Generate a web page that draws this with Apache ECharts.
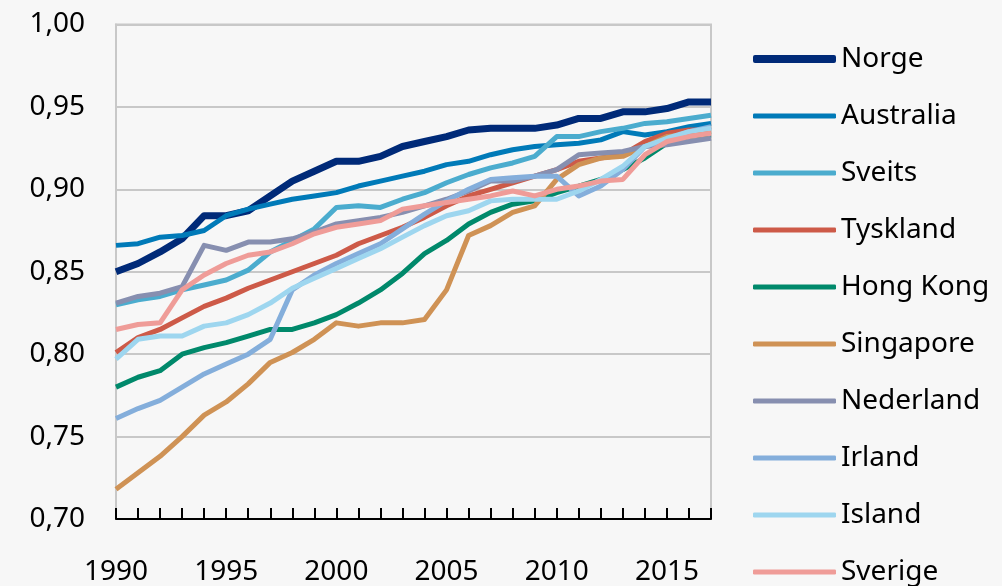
<!DOCTYPE html>
<html>
<head>
<meta charset="utf-8">
<script src="https://cdn.jsdelivr.net/npm/echarts@6/dist/echarts.min.js"></script>
<style>
  html, body { margin: 0; padding: 0; background: #f7f7f7; }
  #main { width: 1002px; height: 586px; }
</style>
</head>
<body>
<div id="main"></div>
<script>
// år 1990-2017
var years = [];
for (var y = 1990; y <= 2017; y++) years.push(String(y));

// verdier lest av figuren
var norge     = [0.850,0.855,0.862,0.870,0.884,0.884,0.887,0.896,0.905,0.911,0.917,0.917,0.920,0.926,0.929,0.932,0.936,0.937,0.937,0.937,0.939,0.943,0.943,0.947,0.947,0.949,0.953,0.953];
var australia = [0.866,0.867,0.871,0.872,0.875,0.884,0.888,0.891,0.894,0.896,0.898,0.902,0.905,0.908,0.911,0.915,0.917,0.921,0.924,0.926,0.927,0.928,0.930,0.935,0.933,0.935,0.938,0.940];
var sveits    = [0.830,0.833,0.835,0.839,0.842,0.845,0.851,0.862,0.869,0.876,0.889,0.890,0.889,0.894,0.898,0.904,0.909,0.913,0.916,0.920,0.932,0.932,0.935,0.937,0.940,0.941,0.943,0.945];
var tyskland  = [0.801,0.810,0.815,0.822,0.829,0.834,0.840,0.845,0.850,0.855,0.860,0.867,0.872,0.877,0.883,0.890,0.896,0.900,0.904,0.908,0.912,0.917,0.919,0.921,0.929,0.934,0.936,0.936];
var hongkong  = [0.780,0.786,0.790,0.800,0.804,0.807,0.811,0.815,0.815,0.819,0.824,0.831,0.839,0.849,0.861,0.869,0.879,0.886,0.891,0.893,0.898,0.902,0.906,0.912,0.919,0.928,0.932,0.933];
var singapore = [0.718,0.728,0.738,0.750,0.763,0.771,0.782,0.795,0.801,0.809,0.819,0.817,0.819,0.819,0.821,0.839,0.872,0.878,0.886,0.890,0.906,0.915,0.919,0.920,0.926,0.932,0.933,0.935];
var nederland = [0.831,0.835,0.837,0.841,0.866,0.863,0.868,0.868,0.870,0.874,0.879,0.881,0.883,0.886,0.890,0.894,0.899,0.905,0.905,0.908,0.912,0.921,0.922,0.923,0.926,0.927,0.929,0.931];
var irland    = [0.761,0.767,0.772,0.780,0.788,0.794,0.800,0.809,0.839,0.848,0.855,0.861,0.867,0.876,0.885,0.893,0.900,0.906,0.907,0.908,0.908,0.896,0.902,0.912,0.926,0.930,0.935,0.938];
var island    = [0.797,0.809,0.811,0.811,0.817,0.819,0.824,0.831,0.840,0.846,0.852,0.858,0.864,0.871,0.878,0.884,0.887,0.893,0.894,0.894,0.894,0.899,0.906,0.914,0.926,0.931,0.935,0.937];
var sverige   = [0.815,0.818,0.819,0.839,0.848,0.855,0.860,0.862,0.867,0.873,0.877,0.879,0.881,0.888,0.890,0.892,0.894,0.896,0.899,0.896,0.900,0.902,0.905,0.906,0.921,0.929,0.932,0.934];

var names  = ['Norge','Australia','Sveits','Tyskland','Hong Kong','Singapore','Nederland','Irland','Island','Sverige'];
var values = [norge, australia, sveits, tyskland, hongkong, singapore, nederland, irland, island, sverige];
var colors = ['#002a78','#007ab8','#4bacce','#cd5a48','#00896b','#cf9255','#878fb0','#84aedb','#9ed6ef','#ef9c98'];

var font = 'Noto Sans';

var series = names.map(function (n, i) {
  return {
    name: n,
    type: 'line',
    data: values[i],
    symbol: 'none',
    color: colors[i],
    lineStyle: { width: i === 0 ? 7 : 5, color: colors[i], join: 'round' }
  };
});

// felles tegnforklaring-stil
var legendText = { fontFamily: font, fontSize: 28, color: '#000', lineHeight: 30 };
function legendBox(data, top, h) {
  return {
    orient: 'vertical',
    left: 748,
    top: top,
    height: 600,
    icon: 'roundRect',
    itemWidth: 83,
    itemHeight: h,
    itemGap: 27,
    data: data,
    textStyle: legendText
  };
}

var chart = echarts.init(document.getElementById('main'));
chart.setOption({
  backgroundColor: '#f7f7f7',
  animation: false,
  grid: {
    left: 116, right: 291, top: 24.5, bottom: 63,
    show: true, borderColor: '#c8c8c8', borderWidth: 2
  },
  legend: [
    legendBox(names.slice(0, 1), 39, 8),
    legendBox(names.slice(1), 96, 5)
  ],
  xAxis: {
    type: 'category',
    data: years,
    boundaryGap: false,
    axisLine: { show: true, lineStyle: { color: '#000', width: 2 } },
    axisTick: { show: true, inside: true, length: 11, interval: 0, lineStyle: { color: '#000', width: 2 } },
    axisLabel: { interval: 4, margin: 39, fontFamily: font, fontSize: 28, color: '#000' },
    splitLine: { show: false }
  },
  yAxis: {
    type: 'value',
    min: 0.7, max: 1.0, interval: 0.05,
    axisLine: { show: true, lineStyle: { color: '#c8c8c8', width: 2 } },
    axisTick: { show: false },
    axisLabel: {
      margin: 31, fontFamily: font, fontSize: 28, color: '#000',
      formatter: function (v) { return v.toFixed(2).replace('.', ','); }
    },
    splitLine: { show: true, lineStyle: { color: '#c8c8c8', width: 2 } }
  },
  series: series
});
</script>
</body>
</html>
